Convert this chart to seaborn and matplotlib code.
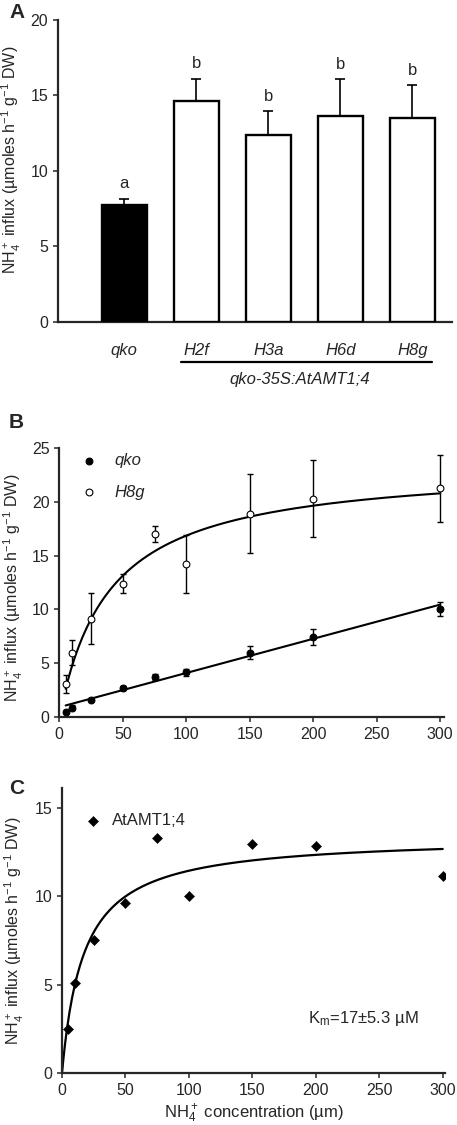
import numpy as np
import pandas as pd
import matplotlib
matplotlib.use("Agg")
import matplotlib.pyplot as plt
import matplotlib.transforms as mtransforms
import seaborn as sns

# ---------------------------------------------------------------------------
# Data
# ---------------------------------------------------------------------------
genotypes = ["qko", "H2f", "H3a", "H6d", "H8g"]
influx_a = [7.77, 14.63, 12.38, 13.64, 13.53]
err_a = [0.38, 1.47, 1.57, 2.43, 2.14]
letters_a = ["a", "b", "b", "b", "b"]
group_label = "qko-35S:AtAMT1;4"

conc = [5, 10, 25, 50, 75, 100, 150, 200, 300]
qko_influx = [0.53, 0.90, 1.64, 2.69, 3.74, 4.17, 5.97, 7.45, 10.05]
qko_err = [0.15, 0.20, 0.15, 0.20, 0.30, 0.30, 0.60, 0.70, 0.65]
h8g_influx = [3.09, 6.00, 9.15, 12.40, 17.03, 14.25, 18.89, 20.28, 21.24]
h8g_err = [0.85, 1.15, 2.35, 0.90, 0.75, 2.70, 3.70, 3.60, 3.10]

amt_influx = [2.48, 5.08, 7.51, 9.64, 13.31, 10.03, 12.93, 12.82, 11.16]

# fitted curves drawn in the figure
qko_slope, qko_intercept = 0.0317, 0.94
h8g_vmax, h8g_km = 23.5, 39.5
amt_vmax, amt_km = 13.39, 17.0

YLABEL = r"NH$_4^+$ influx (µmoles h$^{-1}$ g$^{-1}$ DW)"

# ---------------------------------------------------------------------------
# Style
# ---------------------------------------------------------------------------
sns.set_style("ticks")
plt.rcParams["font.family"] = ["Liberation Sans", "DejaVu Sans"]
plt.rcParams["mathtext.fontset"] = "custom"
plt.rcParams["mathtext.rm"] = "Liberation Sans"
plt.rcParams["mathtext.it"] = "Liberation Sans:italic"
plt.rcParams["font.size"] = 12
plt.rcParams["axes.labelsize"] = 11.5
plt.rcParams["axes.linewidth"] = 1.6
plt.rcParams["xtick.major.width"] = 1.1
plt.rcParams["ytick.major.width"] = 1.1
plt.rcParams["xtick.major.size"] = 3.5
plt.rcParams["ytick.major.size"] = 3.5
plt.rcParams["xtick.labelsize"] = 11.5
plt.rcParams["ytick.labelsize"] = 11.5

W, H = 457, 1125
fig = plt.figure(figsize=(W / 100, H / 100), dpi=100)


def px_axes(left, right, top, bottom):
    return fig.add_axes([left / W, 1 - bottom / H, (right - left) / W, (bottom - top) / H])


# =============================================================================
# Panel A
# =============================================================================
axA = px_axes(58, 452, 20, 322)
dfA = pd.DataFrame({"genotype": genotypes, "influx": influx_a})
sns.barplot(data=dfA, x="genotype", y="influx", ax=axA, width=0.62,
            palette=["black"] + ["white"] * 4, hue="genotype", legend=False,
            edgecolor="black", linewidth=1.7, zorder=3)
axA.errorbar(range(len(genotypes)), influx_a, yerr=[[0] * len(err_a), err_a],
             fmt="none", ecolor="black", elinewidth=1.2, capsize=3.5, capthick=1.2, zorder=2)
for i, (v, e, l) in enumerate(zip(influx_a, err_a, letters_a)):
    axA.text(i, v + e + 1.0, l, ha="center", va="center", fontsize=12)
axA.set_xlim(-0.92, 4.55)
axA.set_ylim(0, 20)
axA.set_yticks([0, 5, 10, 15, 20])
axA.set_xlabel("")
axA.set_ylabel(YLABEL)
axA.yaxis.set_label_coords(-0.09, 0.536)
axA.tick_params(axis="x", length=0, pad=15, labelsize=12)
for t in axA.get_xticklabels():
    t.set_fontstyle("italic")
sns.despine(ax=axA)

trans = mtransforms.blended_transform_factory(axA.transData, axA.transAxes)
axA.plot([0.785, 4.27], [-0.132, -0.132], color="black", lw=1.6,
         transform=trans, clip_on=False)
axA.text(2.44, -0.19, group_label, transform=trans, ha="center", va="center",
         fontstyle="italic", fontsize=12)
fig.text(9 / W, 1 - 12 / H, "A", fontweight="bold", fontsize=15, va="center")

# =============================================================================
# Panel B
# =============================================================================
axB = px_axes(59.3, 444, 447.7, 717.3)
dfB = pd.DataFrame({"conc": conc * 2,
                    "influx": qko_influx + h8g_influx,
                    "line": ["qko"] * len(conc) + ["H8g"] * len(conc)})

xq = np.linspace(5, 300, 200)
axB.plot(xq, qko_intercept + qko_slope * xq, color="black", lw=1.5, zorder=2)
axB.plot(xq, h8g_vmax * xq / (h8g_km + xq), color="black", lw=1.5, zorder=2)

axB.errorbar(conc, qko_influx, yerr=qko_err, fmt="none", ecolor="black",
             elinewidth=1.0, capsize=2.5, capthick=1.0, zorder=3)
axB.errorbar(conc, h8g_influx, yerr=h8g_err, fmt="none", ecolor="black",
             elinewidth=1.0, capsize=2.5, capthick=1.0, zorder=3)
sns.scatterplot(data=dfB[dfB.line == "qko"], x="conc", y="influx", ax=axB,
                marker="o", s=24, color="black", edgecolor="black", linewidth=0.8,
                label="qko", zorder=4)
sns.scatterplot(data=dfB[dfB.line == "H8g"], x="conc", y="influx", ax=axB,
                marker="o", s=24, color="white", edgecolor="black", linewidth=0.8,
                label="H8g", zorder=4)
axB.set_xlim(0, 303)
axB.set_ylim(0, 25)
axB.set_xticks([0, 50, 100, 150, 200, 250, 300])
axB.set_yticks([0, 5, 10, 15, 20, 25])
axB.set_xlabel("")
axB.set_ylabel(YLABEL)
axB.yaxis.set_label_coords(-0.09, 0.48)
sns.despine(ax=axB)
axB.legend(loc="upper left", bbox_to_anchor=(0.039, 1.005), borderaxespad=0,
           frameon=False, handlelength=1.0, handletextpad=1.0, labelspacing=1.0,
           prop={"style": "italic", "size": 12})
fig.text(9 / W, 1 - 423 / H, "B", fontweight="bold", fontsize=15, va="center")

# =============================================================================
# Panel C
# =============================================================================
axC = px_axes(62, 445, 788.3, 1073.3)
dfC = pd.DataFrame({"conc": conc, "influx": amt_influx})
xc = np.linspace(0, 300, 300)
axC.plot(xc, amt_vmax * xc / (amt_km + xc), color="black", lw=1.6, zorder=2)
sns.scatterplot(data=dfC, x="conc", y="influx", ax=axC, marker="D", s=26,
                color="black", edgecolor="black", label="AtAMT1;4", zorder=3)
axC.set_xlim(0, 301.8)
axC.set_ylim(0, 16.1)
axC.set_xticks([0, 50, 100, 150, 200, 250, 300])
axC.set_yticks([0, 5, 10, 15])
axC.set_xlabel(r"NH$_4^+$ concentration (µm)", labelpad=3, fontsize=12)
axC.set_ylabel(YLABEL)
axC.yaxis.set_label_coords(-0.095, 0.5)
sns.despine(ax=axC)
axC.legend(loc="upper left", bbox_to_anchor=(0.043, 0.935), borderaxespad=0,
           frameon=False, handlelength=1.0, handletextpad=0.6,
           prop={"size": 12})
axC.text(194, 3.1, r"K$_{\rm m}$=17±5.3 µM", ha="left", va="center", fontsize=12)
fig.text(9 / W, 1 - 788 / H, "C", fontweight="bold", fontsize=15, va="center")

fig.savefig("out.png", dpi=100)
